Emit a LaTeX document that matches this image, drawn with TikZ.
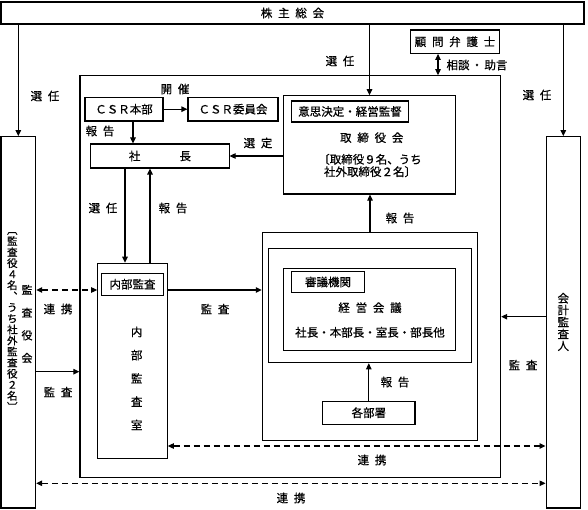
\documentclass[tikz,border=0pt]{standalone}
\usepackage{fontspec}
\setmainfont{Noto Sans CJK JP}[FakeBold=0.6]
\usetikzlibrary{arrows.meta}
\newcommand{\jsp}{\hspace{.5em}}
\tikzset{
  box/.style={draw, line width=1.1pt, inner sep=0pt},
  arr/.style={line width=1.1pt, -{Triangle[length=6pt,width=5.5pt]}},
  barr/.style={line width=1.1pt, {Triangle[length=6pt,width=5.5pt]}-{Triangle[length=6pt,width=5.5pt]}},
  darr/.style={barr, dash pattern=on 6pt off 4pt},
}
\begin{document}
\begin{tikzpicture}[x=1pt, y=-1pt, font=\fontsize{11.5}{13}\selectfont]
\useasboundingbox (0,0) rectangle (588,510);

\node[box, minimum width=583pt, minimum height=22pt] (soukai) at (292.5,13) {株\jsp 主\jsp 総\jsp 会};
\node[box, minimum width=88.6pt, minimum height=23.3pt] (komon) at (455,41.7) {顧\jsp 問\jsp 弁\jsp 護\jsp 士};
\node[box, minimum width=420.7pt, minimum height=401.6pt] (company) at (290.3,276.5) {};
\node[box, minimum width=34.7pt, minimum height=371.3pt] (kansa) at (18.3,322.3) {};
\node[box, minimum width=34.5pt, minimum height=371.3pt] (kaikei) at (563.3,322.3) {};
\node[box, minimum width=78pt, minimum height=23.7pt] (csrhq) at (124,109.2) {ＣＳＲ本部};
\node[box, minimum width=90pt, minimum height=23.7pt] (csrcom) at (233,109.2) {ＣＳＲ委員会};
\node[box, minimum width=138.3pt, minimum height=24pt] (shacho) at (159.9,156) {社\hspace{3.4em}長};
\node[box, minimum width=172.4pt, minimum height=98.3pt] (tori) at (369.5,144.9) {};
\node[box, minimum width=116.6pt, minimum height=21pt] (torilabel) at (350,111.5) {意思決定・経営監督};
\node[box, minimum width=69.6pt, minimum height=195pt] (naibu) at (132.5,360.8) {};
\node[box, minimum width=61.6pt, minimum height=21.7pt] (naibulabel) at (132.5,284.2) {内部監査};
\node[box, minimum width=215.4pt, minimum height=207.3pt] (kgroup) at (370,336.4) {};
\node[box, minimum width=202.7pt, minimum height=114.4pt] (kmid) at (369.7,305.5) {};
\node[box, minimum width=171.7pt, minimum height=81.7pt] (kin) at (369.2,309.2) {};
\node[box, minimum width=72.6pt, minimum height=20.6pt] (shingi) at (328,282) {審議機関};
\node[box, minimum width=92.3pt, minimum height=23.3pt] (kakubu) at (368.8,412.7) {各部署};

\node (toriname) at (371.7,137.7) {取\jsp 締\jsp 役\jsp 会};
\node[align=center, font=\fontsize{11.5}{12.4}\selectfont] (torimember) at (370,165.5) {〔取締役９名、うち\\社外取締役２名〕};
\node (keieiname) at (370,307.7) {経\jsp 営\jsp 会\jsp 議};
\node (keieimember) at (370,332.3) {社長・本部長・室長・部長他};
\node[align=center, font=\fontsize{11.5}{23.3}\selectfont] (naibuname) at (136.7,378.3) {内\\部\\監\\査\\室};
\node[align=center, font=\fontsize{10.5}{11.05}\selectfont] (kansamember) at (12.3,321.5) {︹\\監\\査\\役\\４\\名\\︑\\う\\ち\\社\\外\\監\\査\\役\\２\\名\\︺};
\node[align=center, font=\fontsize{11}{22.7}\selectfont] (kansaname) at (27,324) {監\\査\\役\\会};
\node[align=center, font=\fontsize{11.5}{11.9}\selectfont] (kaikeiname) at (563.3,322) {会\\計\\監\\査\\人};

\draw[arr] (soukai.south -| kansa.north) -- (kansa.north);
\draw[arr] (soukai.south -| kaikei.north) -- (kaikei.north);
\draw[arr] (soukai.south -| tori.north) -- (tori.north);
\draw[barr] ([xshift=-17pt]komon.south) -- ([xshift=-17pt]komon.south |- company.north);
\draw[arr] (csrhq.east) -- (csrcom.west);
\draw[arr] ([xshift=9pt]csrhq.south) -- ([xshift=9pt]csrhq.south |- shacho.north);
\draw[arr] (tori.west |- shacho.east) -- (shacho.east);
\draw[arr] ([xshift=-7.5pt]naibu.north |- shacho.south) -- ([xshift=-7.5pt]naibu.north);
\draw[arr] ([xshift=17.5pt]naibu.north) -- ([xshift=17.5pt]naibu.north |- shacho.south);
\draw[arr] (kgroup.north) -- (kgroup.north |- tori.south);
\draw[arr] (kakubu.north) -- (kakubu.north |- kmid.south);

\coordinate (audit) at (0,290);
\coordinate (outside) at (0,316.7);
\coordinate (board) at (0,371.7);
\coordinate (linkA) at (0,446);
\coordinate (linkB) at (0,483.3);
\draw[arr] (naibu.east |- audit) -- (kgroup.west |- audit);
\draw[darr] (kansa.east |- audit) -- (naibu.west |- audit);
\draw[arr] (kaikei.west |- outside) -- (company.east |- outside);
\draw[arr] (kansa.east |- board) -- (company.west |- board);
\draw[darr] (naibu.east |- linkA) -- (kaikei.west |- linkA);
\draw[darr] (kansa.east |- linkB) -- (kaikei.west |- linkB);

\node (selL) at (45,96) {選\jsp 任};
\node (selR) at (537,95) {選\jsp 任};
\node (selT) at (340,61) {選\jsp 任};
\node (advice) at (477,65) {相談\hspace{.15em}・\hspace{.15em}助言};
\node (hold) at (175,89) {開\jsp 催};
\node (repCSR) at (100,131) {報\jsp 告};
\node (appoint) at (258,143) {選\jsp 定};
\node (selN) at (103,208) {選\jsp 任};
\node (repN) at (173,208) {報\jsp 告};
\node (repK) at (400,218) {報\jsp 告};
\node (repD) at (395,382) {報\jsp 告};
\node (auditN) at (215,309) {監\jsp 査};
\node (linkL) at (58,309) {連\jsp 携};
\node (auditL) at (58,392) {監\jsp 査};
\node (auditR) at (523,365) {監\jsp 査};
\node (linkM) at (372,460) {連\jsp 携};
\node (linkBot) at (291,498) {連\jsp 携};
\end{tikzpicture}
\end{document}
